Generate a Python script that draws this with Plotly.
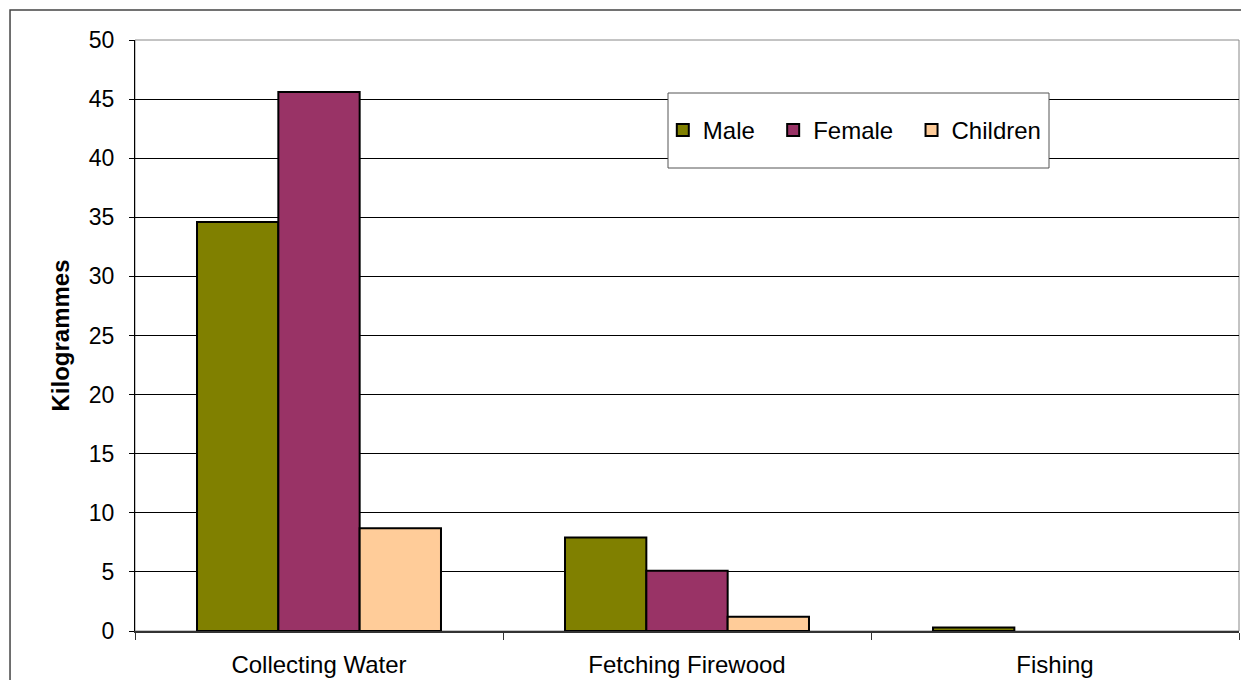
import plotly.graph_objects as go

categories = ["Collecting Water", "Fetching Firewood", "Fishing"]
male = [34.6, 7.9, 0.3]
female = [45.6, 5.1, 0.0]
children = [8.7, 1.2, 0.0]
y_ticks = [0, 5, 10, 15, 20, 25, 30, 35, 40, 45, 50]
series_names = ["Male", "Female", "Children"]

pad = "\u00a0\u00a0"
fig = go.Figure()
for i, (name, vals, col) in enumerate(zip(series_names, [male, female, children], ["#808000", "#993366", "#FFCC99"])):
    label = name + (pad if i < 2 else "")
    fig.add_trace(go.Bar(name=label, x=categories, y=vals,
                         marker=dict(color=col, line=dict(color="black", width=[2 if v > 0 else 0 for v in vals]))))

fig.update_layout(
    width=1241, height=680,
    barmode="group", bargap=0.337, bargroupgap=0,
    plot_bgcolor="white", paper_bgcolor="white",
    margin=dict(l=135, r=2, t=40, b=49),
    font=dict(family="Liberation Sans, Arial", size=24, color="black"),
    legend=dict(orientation="h", x=0.652, y=0.847, xanchor="center", yanchor="middle",
                borderwidth=0, font=dict(size=24), bgcolor="rgba(0,0,0,0)",
                itemwidth=30, tracegroupgap=0),
    showlegend=True,
)
fig.update_xaxes(showline=True, linecolor="#333333", linewidth=1.5, ticks="outside", tickson="boundaries",
                 ticklen=7, tickcolor="#333333", showgrid=False, tickfont=dict(size=24),
                 ticklabelstandoff=11)
fig.update_yaxes(range=[0, 50], tickvals=y_ticks, showline=True, linecolor="black", linewidth=1,
                 ticks="outside", ticklen=5, tickcolor="black", showgrid=True, gridcolor="black", gridwidth=1,
                 title=dict(text="<b>Kilogrammes</b>", font=dict(size=24), standoff=12), tickfont=dict(size=23),
                 zeroline=False, ticklabelstandoff=10)
# plot area border (top/right)
fig.add_shape(type="rect", xref="paper", yref="paper", x0=0, x1=1, y0=0, y1=1,
              line=dict(color="#888888", width=1), layer="below")
# legend box
fig.add_shape(type="rect", xref="paper", yref="paper", x0=0.4828, x1=0.8279, y0=0.7834, y1=0.9103,
              line=dict(color="#555555", width=1), fillcolor="white", layer="above")
# outer chart border
fig.add_shape(type="rect", xref="paper", yref="paper", x0=-0.1132, x1=1.02, y0=-0.12, y1=1.0508,
              line=dict(color="#444444", width=1.5))
fig.write_html("out.html", config={"displayModeBar": False},
               post_script="document.body.style.margin='0';document.body.style.overflow='hidden';")
